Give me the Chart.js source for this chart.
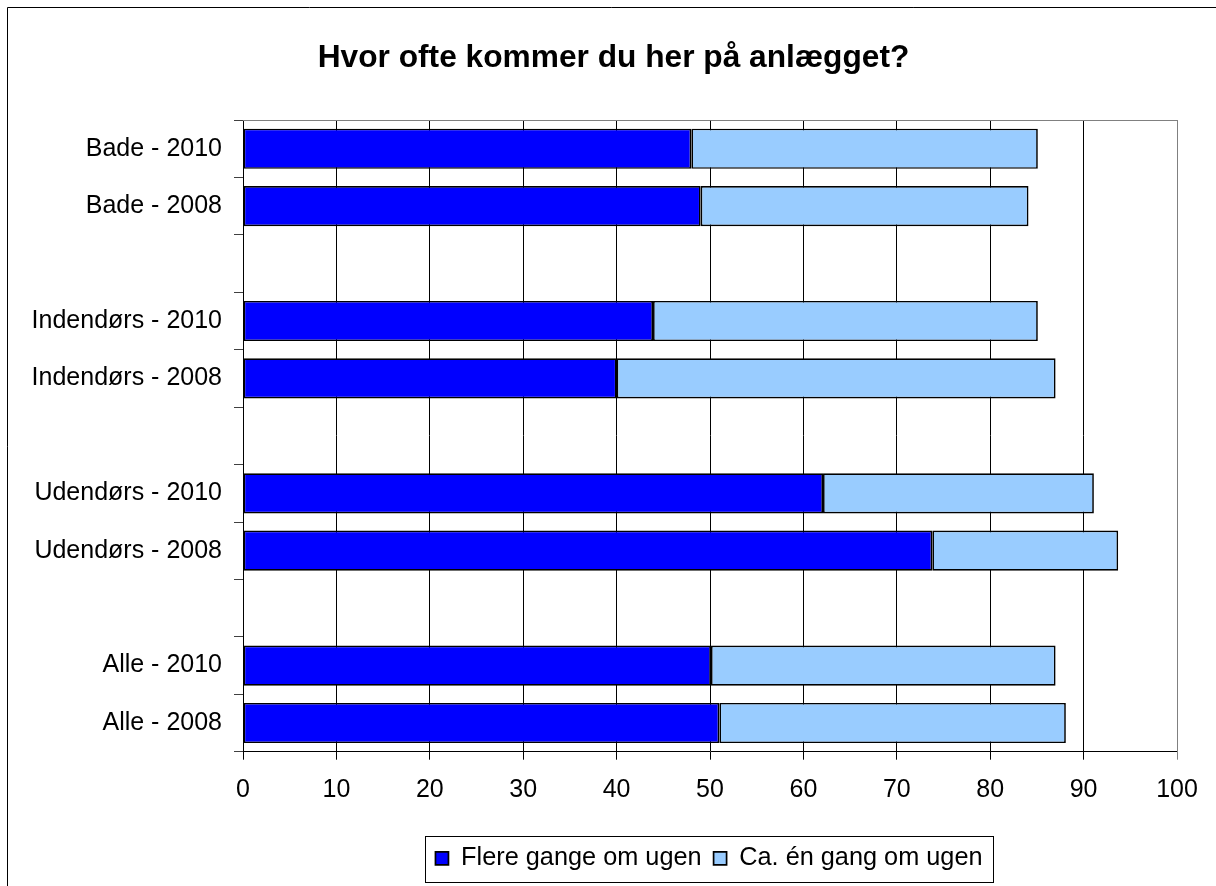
<!DOCTYPE html>
<html>
<head>
<meta charset="utf-8">
<script src="https://cdn.jsdelivr.net/npm/chart.js@4.4.1/dist/chart.umd.min.js"></script>
<style>
  html, body { margin: 0; padding: 0; background: #ffffff; overflow: hidden; }
  canvas { display: block; }
</style>
</head>
<body>
<canvas id="c" width="1216" height="886"></canvas>
<script>
const titleText = 'Hvor ofte kommer du her på anlægget?';
const categories = ['Bade - 2010', 'Bade - 2008', '', 'Indendørs - 2010', 'Indendørs - 2008', '', 'Udendørs - 2010', 'Udendørs - 2008', '', 'Alle - 2010', 'Alle - 2008'];
const seriesNames = ['Flere gange om ugen', 'Ca. én gang om ugen'];
const flereGange = [48, 49, null, 43.9, 40, null, 62.1, 73.8, null, 50.1, 51];
const caEnGang = [37.1, 35.1, null, 41.2, 47, null, 29, 19.9, null, 36.9, 37.1];
const xTicks = [0, 10, 20, 30, 40, 50, 60, 70, 80, 90, 100];

const FONT = '"Liberation Sans", Arial, sans-serif';

const framePlugin = {
  id: 'frame',
  afterLayout(chart) {
    if (chart.titleBlock) { chart.titleBlock.left += 25; chart.titleBlock.right += 25; }
    if (chart.legend) { chart.legend.left -= 1; chart.legend.right -= 1; }
  },
  beforeDraw(chart) {
    const ctx = chart.ctx;
    ctx.save();
    ctx.fillStyle = '#ffffff';
    ctx.fillRect(0, 0, chart.width, chart.height);
    ctx.strokeStyle = '#000000';
    ctx.lineWidth = 1;
    ctx.beginPath();
    ctx.moveTo(7.5, chart.height);
    ctx.lineTo(7.5, 7.5);
    ctx.lineTo(chart.width, 7.5);
    ctx.stroke();
    ctx.restore();
  },
  afterDraw(chart) {
    const ctx = chart.ctx;
    const a = chart.chartArea;
    ctx.save();
    ctx.strokeStyle = '#808080';
    ctx.lineWidth = 1;
    ctx.beginPath();
    ctx.moveTo(Math.round(a.left), Math.round(a.top) + 0.5);
    ctx.lineTo(Math.round(a.right) + 0.5, Math.round(a.top) + 0.5);
    ctx.lineTo(Math.round(a.right) + 0.5, Math.round(a.bottom));
    ctx.stroke();
    const hb = chart.legend && chart.legend.legendHitBoxes;
    if (hb && hb.length) {
      let l = Infinity, r = -Infinity, cy = 0;
      hb.forEach(h => { l = Math.min(l, h.left); r = Math.max(r, h.left + h.width); cy = h.top + h.height / 2; });
      ctx.strokeStyle = '#000000';
      ctx.strokeRect(Math.round(l - 10) + 0.5, Math.round(cy - 22) + 0.5, Math.round(r - l + 21), 46);
    }
    ctx.restore();
  }
};

new Chart(document.getElementById('c'), {
  type: 'bar',
  data: {
    labels: categories,
    datasets: [
      {
        label: seriesNames[0],
        data: flereGange,
        backgroundColor: '#0000FF',
        borderColor: '#000000',
        borderWidth: 1.7,
        borderSkipped: false
      },
      {
        label: seriesNames[1],
        data: caEnGang,
        backgroundColor: '#99CCFF',
        borderColor: '#000000',
        borderWidth: 1.7,
        borderSkipped: false
      }
    ]
  },
  options: {
    indexAxis: 'y',
    responsive: false,
    animation: false,
    devicePixelRatio: 1,
    layout: { padding: { left: 0, right: 39, top: 0, bottom: 5 } },
    datasets: { bar: { categoryPercentage: 1.0, barPercentage: 0.7 } },
    scales: {
      x: {
        stacked: true,
        min: 0,
        max: 100,
        afterBuildTicks(scale) { scale.ticks = xTicks.map(v => ({ value: v })); },
        afterFit(scale) { scale.height = 82; },
        ticks: {
          color: '#000000',
          font: { family: FONT, size: 25 },
          padding: 15,
          maxRotation: 0,
          autoSkip: false
        },
        grid: {
          color: (c) => (c.tick && c.tick.value === 100) ? '#808080' : '#000000',
          lineWidth: 1,
          tickLength: 8,
          drawTicks: true
        },
        border: { color: '#000000', width: 1 }
      },
      y: {
        stacked: true,
        afterFit(scale) { scale.width = 243; },
        ticks: {
          color: '#000000',
          font: { family: FONT, size: 25 },
          padding: 12,
          autoSkip: false
        },
        grid: {
          drawOnChartArea: false,
          drawTicks: true,
          tickLength: 9,
          color: '#404040',
          offset: true
        },
        border: { color: '#000000', width: 1 }
      }
    },
    plugins: {
      title: {
        display: true,
        text: titleText,
        color: '#000000',
        font: { family: FONT, size: 31.7, weight: 'bold' },
        padding: { top: 39, bottom: 43 }
      },
      legend: {
        display: true,
        position: 'bottom',
        fullSize: false,
        labels: {
          color: '#000000',
          font: { family: FONT, size: 25.3 },
          boxWidth: 13,
          boxHeight: 13,
          padding: 12
        }
      },
      tooltip: { enabled: false }
    }
  },
  plugins: [framePlugin]
});
</script>
</body>
</html>
